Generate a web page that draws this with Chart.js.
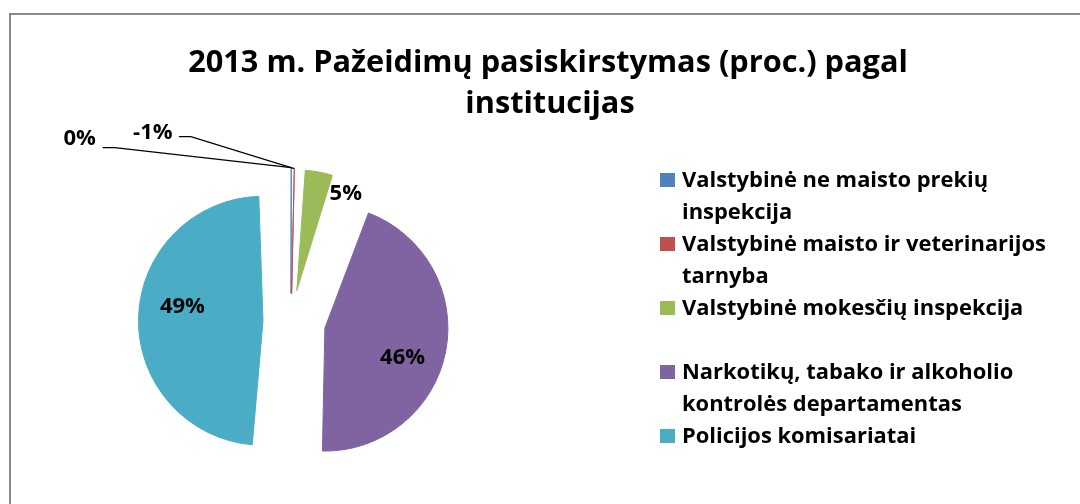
<!DOCTYPE html>
<html>
<head>
<meta charset="utf-8">
<script src="https://cdn.jsdelivr.net/npm/chart.js@4.4.0/dist/chart.umd.min.js"></script>
<style>
  html, body { margin: 0; padding: 0; background: #fff; }
  #wrap { position: relative; width: 1080px; height: 504px; overflow: hidden; }
  #frame { position: absolute; left: 9px; top: 13px; width: 1200px; height: 600px;
           border-left: 2px solid #8a8a8a; border-top: 2px solid #8a8a8a; }
  canvas { position: absolute; left: 0; top: 0; }
</style>
</head>
<body>
<div id="wrap">
  <div id="frame"></div>
  <canvas id="pie" width="1080" height="504"></canvas>
</div>
<script>
var titleLines = ['2013 m. Pažeidimų pasiskirstymas (proc.) pagal', 'institucijas'];
var categories = [
  'Valstybinė ne maisto prekių inspekcija',
  'Valstybinė maisto ir veterinarijos tarnyba',
  'Valstybinė mokesčių inspekcija',
  'Narkotikų, tabako ir alkoholio kontrolės departamentas',
  'Policijos komisariatai'
];
var shares = [0.05, -0.6, 4.6, 45.6, 49.18];
var colors = ['#4F81BD', '#C0504D', '#9BBB59', '#8064A2', '#4BACC6'];

// explosion per slice (chart.js moves a slice by offset/4)
var explode = [112, 112, 126, 138, 112];

var fontName = '"Open Sans", Lato, sans-serif';

// label placement: fraction of radius and extra angle (deg) for labels inside slices
var insideLabels = { 2: { f: 0.91, a: 15.9 }, 3: { f: 0.67, a: 8.6 }, 4: { f: 0.66, a: 9.8 } };
// labels outside, relative to the slice tip, with a leader line
var outsideLabels = {
  0: { tx: -211.5, ty: -31, ex1: -188.5, ex2: -176.5, ey: -20 },
  1: { tx: -141.5, ty: -38, ex1: -115.5, ex2: -103.5, ey: -32 }
};

function pctText(v, total) {
  var p = v / total * 100;
  var r = p < 0 ? -Math.round(-p) : Math.round(p);
  return r + '%';
}

function sliceGeom(arc) {
  var p = arc.getProps(['x', 'y', 'startAngle', 'endAngle', 'outerRadius', 'circumference'], true);
  var d = (arc.options.offset || 0) / 4;
  var mid = (p.startAngle + p.endAngle) / 2;
  var fix = 1 - Math.sin(Math.min(Math.PI, p.circumference));
  return { cx: p.x + Math.cos(mid) * d, cy: p.y + Math.sin(mid) * d, r: p.outerRadius + d * fix, mid: mid };
}

// font size that gives a text the wanted width
function fitSize(ctx, text, width) {
  ctx.font = 'bold 20px ' + fontName;
  return 20 * width / ctx.measureText(text).width;
}

function wrapText(ctx, text, maxW) {
  var words = text.split(' ');
  var lines = [];
  var cur = '';
  words.forEach(function (w) {
    var test = cur ? cur + ' ' + w : w;
    if (ctx.measureText(test).width > maxW && cur) {
      lines.push(cur);
      cur = w;
    } else {
      cur = test;
    }
  });
  if (cur) lines.push(cur);
  return lines;
}

var drawExtras = {
  id: 'drawExtras',
  afterDatasetsDraw: function (chart) {
    var ctx = chart.ctx;
    var meta = chart.getDatasetMeta(0);
    var total = shares.reduce(function (a, b) { return a + Math.abs(b); }, 0);
    ctx.save();
    var size = fitSize(ctx, '46%', 45);
    ctx.font = 'bold ' + size + 'px ' + fontName;
    ctx.fillStyle = '#000';
    ctx.textAlign = 'center';
    ctx.textBaseline = 'alphabetic';
    meta.data.forEach(function (arc, i) {
      var g = sliceGeom(arc);
      var txt = pctText(shares[i], total);
      if (insideLabels[i]) {
        var o = insideLabels[i];
        var a = g.mid + o.a * Math.PI / 180;
        var x = g.cx + Math.cos(a) * g.r * o.f;
        var y = g.cy + Math.sin(a) * g.r * o.f;
        ctx.fillText(txt, x, y + size * 0.36);
      } else if (outsideLabels[i]) {
        var q = outsideLabels[i];
        var tipX = g.cx + Math.cos(g.mid) * g.r;
        var tipY = g.cy + Math.sin(g.mid) * g.r;
        ctx.fillText(txt, tipX + q.tx, tipY + q.ty + size * 0.36);
        ctx.beginPath();
        ctx.strokeStyle = '#000';
        ctx.lineWidth = 1.2;
        ctx.moveTo(tipX + q.ex1, tipY + q.ey);
        ctx.lineTo(tipX + q.ex2, tipY + q.ey);
        ctx.lineTo(tipX, tipY);
        ctx.stroke();
      }
    });
    ctx.restore();
  },
  afterDraw: function (chart) {
    var ctx = chart.ctx;
    ctx.save();
    ctx.fillStyle = '#000';
    // title
    var ts = fitSize(ctx, titleLines[0], 720);
    ctx.font = 'bold ' + ts + 'px ' + fontName;
    ctx.textAlign = 'center';
    ctx.textBaseline = 'alphabetic';
    ctx.fillText(titleLines[0], 548, 72);
    ctx.fillText(titleLines[1], 550, 112.5);
    // legend, two line slots per entry
    var ls = fitSize(ctx, 'Valstybinė maisto ir veterinarijos', 364);
    ctx.font = 'bold ' + ls + 'px ' + fontName;
    ctx.textAlign = 'left';
    var slot = 0;
    categories.forEach(function (name, i) {
      var base = 187 + slot * 32;
      ctx.fillStyle = colors[i];
      ctx.fillRect(660, base - 14, 15, 14);
      ctx.fillStyle = '#000';
      var lines = wrapText(ctx, name, 385);
      lines.forEach(function (ln, k) {
        ctx.fillText(ln, 682, base + k * 32);
      });
      slot += 2;
    });
    ctx.restore();
  }
};

new Chart(document.getElementById('pie'), {
  type: 'pie',
  data: {
    labels: categories,
    datasets: [{
      data: shares,
      backgroundColor: colors,
      // thin border in the slice colour, otherwise the tiny exploded slice is not painted
      borderWidth: 1,
      borderColor: colors,
      offset: explode,
      hoverOffset: 0
    }]
  },
  options: {
    responsive: false,
    animation: false,
    devicePixelRatio: 1,
    events: [],
    layout: { padding: { left: 123, right: 621, top: 154, bottom: 15 } },
    plugins: {
      legend: { display: false },
      title: { display: false },
      tooltip: { enabled: false }
    }
  },
  plugins: [drawExtras]
});
</script>
</body>
</html>
